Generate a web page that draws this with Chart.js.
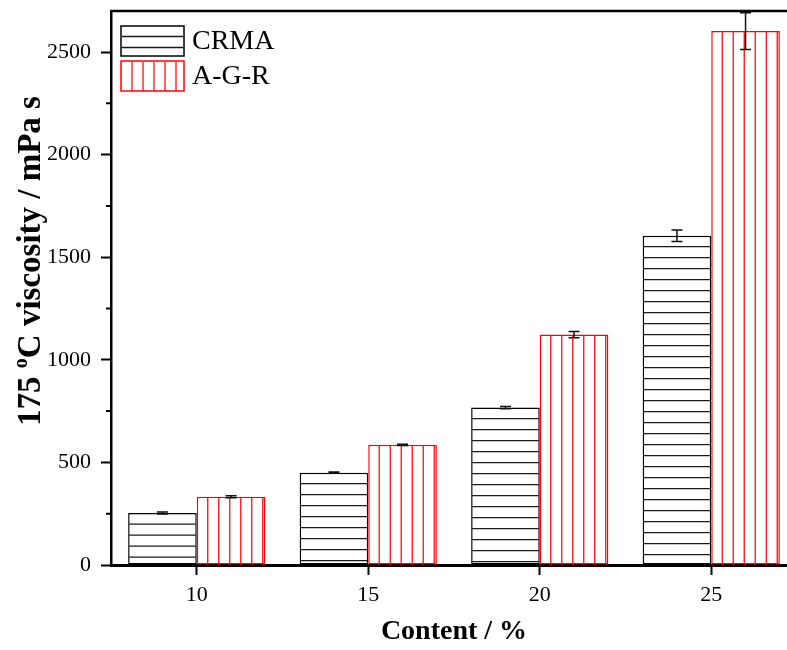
<!DOCTYPE html>
<html>
<head>
<meta charset="utf-8">
<script src="https://cdn.jsdelivr.net/npm/chart.js@4/dist/chart.umd.min.js"></script>
<style>
  html, body { margin: 0; padding: 0; background: #fff; overflow: hidden; }
  #chart { position: absolute; left: 0; top: 0; }
</style>
</head>
<body>
<canvas id="chart" width="800" height="650"></canvas>
<script>
var contents = ['10', '15', '20', '25'];
var crmaValues = [253, 450, 767, 1605];
var crmaErrors = [5, 3, 5, 28];
var agrValues = [333, 586, 1123, 2602];
var agrErrors = [5, 3, 15, 90];
var yTicksMajor = [0, 500, 1000, 1500, 2000, 2500];
var yTicksMinor = [250, 750, 1250, 1750, 2250];

var serif = '"Liberation Serif", "Times New Roman", serif';
var hatchGap = 11;

// horizontal lines for CRMA, vertical for A-G-R
function drawHatch(ctx, left, top, right, bottom, dir, color) {
    ctx.save();
    ctx.strokeStyle = color;
    ctx.lineWidth = 1.3;
    ctx.beginPath();
    if (dir === 'h') {
        for (var yy = top + hatchGap; yy < bottom - 1; yy += hatchGap) {
            ctx.moveTo(left + 1, yy);
            ctx.lineTo(right - 1, yy);
        }
    } else {
        for (var xx = left + hatchGap; xx < right - 1.5; xx += hatchGap) {
            ctx.moveTo(xx, top + 1);
            ctx.lineTo(xx, bottom);
        }
    }
    ctx.stroke();
    ctx.restore();
}

var hatchPlugin = {
    id: 'hatch',
    afterDatasetsDraw: function(chart) {
        var ctx = chart.ctx;
        var area = chart.chartArea;
        ctx.save();
        ctx.beginPath();
        ctx.rect(area.left, area.top - 20, area.right - area.left, area.bottom - area.top + 20);
        ctx.clip();
        chart.data.datasets.forEach(function(ds, di) {
            var meta = chart.getDatasetMeta(di);
            meta.data.forEach(function(bar) {
                var p = bar.getProps(['x', 'y', 'base', 'width'], true);
                var l = p.x - p.width / 2, r = p.x + p.width / 2;
                drawHatch(ctx, l, p.y, r, p.base, ds.hatchDir, ds.hatchColor);
            });
        });
        // error bars
        chart.data.datasets.forEach(function(ds, di) {
            var meta = chart.getDatasetMeta(di);
            var yScale = chart.scales.y;
            meta.data.forEach(function(bar, i) {
                var v = ds.data[i], e = ds.errors[i];
                var yHi = yScale.getPixelForValue(v + e);
                var yLo = yScale.getPixelForValue(v - e);
                ctx.strokeStyle = '#111';
                ctx.lineWidth = 1.5;
                ctx.beginPath();
                ctx.moveTo(bar.x, yHi);
                ctx.lineTo(bar.x, yLo);
                ctx.moveTo(bar.x - 5.5, yHi);
                ctx.lineTo(bar.x + 5.5, yHi);
                ctx.moveTo(bar.x - 5.5, yLo);
                ctx.lineTo(bar.x + 5.5, yLo);
                ctx.stroke();
            });
        });
        ctx.restore();
    }
};

// y title with a raised "o" for the degree mark
function drawYTitle(ctx, cx, cy) {
    var big = 'bold 33px ' + serif;
    var small = 'bold 20px ' + serif;
    var parts = [
        { t: '175 ', f: big, dy: 0 },
        { t: 'o', f: small, dy: -13 },
        { t: 'C viscosity / mPa s', f: big, dy: 0 }
    ];
    var total = 0;
    parts.forEach(function(p) { ctx.font = p.f; p.w = ctx.measureText(p.t).width; total += p.w; });
    ctx.save();
    ctx.translate(cx, cy);
    ctx.rotate(-Math.PI / 2);
    ctx.fillStyle = '#000';
    ctx.textAlign = 'left';
    ctx.textBaseline = 'alphabetic';
    var x = -total / 2;
    parts.forEach(function(p) {
        ctx.font = p.f;
        ctx.fillText(p.t, x, 11 + p.dy);
        x += p.w;
    });
    ctx.restore();
}

var framePlugin = {
    id: 'frame',
    afterDraw: function(chart) {
        var ctx = chart.ctx;
        var area = chart.chartArea;
        var yScale = chart.scales.y;
        ctx.save();
        // top frame line
        ctx.strokeStyle = '#000';
        ctx.lineWidth = 2.5;
        ctx.beginPath();
        ctx.moveTo(area.left - 1, area.top);
        ctx.lineTo(area.right, area.top);
        ctx.stroke();
        // minor ticks on the y axis
        ctx.lineWidth = 2;
        ctx.beginPath();
        yTicksMinor.forEach(function(v) {
            var py = yScale.getPixelForValue(v);
            ctx.moveTo(area.left - 5, py);
            ctx.lineTo(area.left, py);
        });
        ctx.stroke();

        drawYTitle(ctx, 29, 261);

        // legend inside the plot
        var lx = area.left + 10, ly = area.top + 15;
        var bw = 63, bh = 30;
        chart.data.datasets.forEach(function(ds, di) {
            var by = ly + di * 35;
            ctx.fillStyle = '#fff';
            ctx.fillRect(lx, by, bw, bh);
            drawHatch(ctx, lx, by - (ds.hatchDir === 'h' ? 0.5 : 0), lx + bw, by + bh, ds.hatchDir, ds.hatchColor);
            ctx.strokeStyle = ds.borderColor;
            ctx.lineWidth = 1.5;
            ctx.strokeRect(lx, by, bw, bh);
            ctx.fillStyle = '#000';
            ctx.font = '28px ' + serif;
            ctx.textBaseline = 'middle';
            ctx.textAlign = 'left';
            ctx.fillText(ds.label, lx + bw + 8, by + bh / 2 + 1);
        });
        ctx.restore();
    }
};

var ctx = document.getElementById('chart').getContext('2d');

var chart = new Chart(ctx, {
    type: 'bar',
    data: {
        labels: contents,
        datasets: [{
            label: 'CRMA',
            data: crmaValues,
            errors: crmaErrors,
            backgroundColor: '#fff',
            borderColor: '#000',
            borderWidth: 1.5,
            borderSkipped: false,
            hatchDir: 'h',
            hatchColor: '#1a1a1a'
        }, {
            label: 'A-G-R',
            data: agrValues,
            errors: agrErrors,
            backgroundColor: '#fff',
            borderColor: '#ff0000',
            borderWidth: 1.5,
            borderSkipped: false,
            hatchDir: 'v',
            hatchColor: '#ff1010'
        }]
    },
    options: {
        responsive: false,
        animation: false,
        devicePixelRatio: 1,
        categoryPercentage: 0.8,
        barPercentage: 1.0,
        layout: { padding: { top: 11, right: 3, left: 0, bottom: 0 } },
        plugins: {
            legend: { display: false },
            tooltip: { enabled: false }
        },
        scales: {
            x: {
                offset: true,
                afterFit: function(scale) {
                    scale.height = 85;
                    scale.paddingLeft = 0;
                    scale.paddingRight = 0;
                },
                border: { display: true, color: '#000', width: 3 },
                grid: {
                    display: true,
                    drawOnChartArea: false,
                    drawTicks: true,
                    tickLength: 10,
                    tickWidth: 2,
                    tickColor: '#000',
                    offset: false
                },
                ticks: {
                    color: '#000',
                    padding: 7,
                    font: { family: serif, size: 22 },
                    maxRotation: 0
                },
                title: {
                    display: true,
                    text: 'Content / %',
                    color: '#000',
                    font: { family: serif, size: 28, weight: 'bold' },
                    padding: { top: 0, bottom: 1 }
                }
            },
            y: {
                min: 0,
                max: 2700,
                afterFit: function(scale) {
                    scale.width = 111;
                    scale.paddingTop = 0;
                    scale.paddingBottom = 0;
                },
                border: { display: true, color: '#000', width: 2.5 },
                grid: {
                    display: true,
                    drawOnChartArea: false,
                    drawTicks: true,
                    tickLength: 10,
                    tickWidth: 2,
                    tickColor: '#000'
                },
                afterBuildTicks: function(scale) {
                    scale.ticks = yTicksMajor.map(function(v) { return { value: v }; });
                },
                ticks: {
                    color: '#000',
                    padding: 10,
                    font: { family: serif, size: 22 },
                    callback: function(v) { return String(v); }
                },
                title: { display: false }
            }
        }
    },
    plugins: [hatchPlugin, framePlugin]
});
</script>
</body>
</html>
